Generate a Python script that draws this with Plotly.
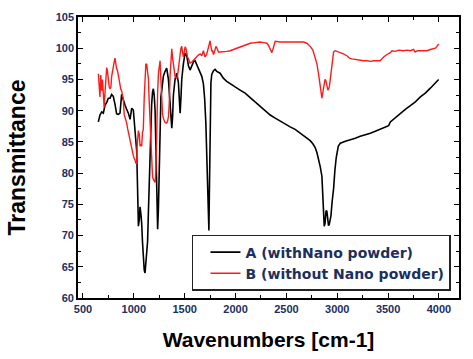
import plotly.graph_objects as go

# Series A (with Nano powder) - black
a_x = [651, 667, 684, 700, 717, 733, 749, 766, 782, 798, 815, 831, 848, 864, 880, 897, 913, 930, 946, 963,
       979, 995, 1004, 1012, 1020, 1028, 1036, 1045, 1053, 1061, 1069, 1077, 1085, 1093, 1102, 1110, 1118,
       1126, 1135, 1143, 1151, 1159, 1167, 1175, 1184, 1192, 1200, 1209, 1217, 1225, 1234, 1242, 1250, 1258,
       1266, 1275, 1290, 1307, 1323, 1340, 1356, 1373, 1381, 1389, 1405, 1422, 1438, 1446, 1455, 1463, 1471,
       1487, 1504, 1520, 1537, 1553, 1570, 1586, 1602, 1619, 1635, 1652, 1668, 1684, 1696, 1708, 1716, 1724,
       1733, 1738, 1742, 1750, 1758, 1766, 1783, 1799, 1815, 1848, 1880, 1913, 1947, 1996, 2045, 2094, 2144,
       2193, 2242, 2291, 2341, 2390, 2439, 2488, 2537, 2586, 2635, 2684, 2734, 2760, 2783, 2800, 2816, 2833,
       2849, 2857, 2865, 2872, 2880, 2890, 2898, 2906, 2914, 2922, 2938, 2950, 2964, 2977, 2990, 3010, 3030,
       3080, 3128, 3177, 3226, 3276, 3325, 3374, 3423, 3472, 3505, 3522, 3571, 3620, 3669, 3719, 3768, 3817,
       3866, 3915, 3948, 3997]
a_y = [88.2, 89.3, 89.8, 89.6, 90.9, 91.3, 92.0, 92.0, 92.6, 92.3, 91.0, 89.5, 89.4, 89.6, 92.6, 91.5, 90.9,
       90.2, 89.6, 88.6, 90.4, 90.1, 88.5, 86.9, 85.0, 83.5, 78.0, 71.5, 72.5, 74.6, 73.5, 72.0, 69.0, 66.5,
       64.5, 64.0, 65.5, 66.8, 69.0, 73.6, 79.0, 84.2, 88.5, 91.0, 93.0, 93.5, 92.5, 90.0, 84.0, 76.0, 71.0,
       74.5, 82.0, 90.0, 92.2, 93.3, 95.5, 96.3, 96.8, 95.0, 91.5, 87.2, 89.0, 92.5, 95.0, 96.0, 94.5, 91.5,
       89.6, 92.0, 95.0, 97.5, 99.2, 98.8, 97.2, 96.5, 97.3, 97.8, 98.0, 97.3, 96.8, 96.2, 95.5, 94.3, 92.0,
       88.0, 83.0, 76.0, 71.0, 70.8, 76.0, 88.0, 94.5, 95.8, 96.4, 96.6, 96.3, 96.0, 95.2, 94.7, 94.3, 93.8,
       93.3, 92.8, 92.1, 91.4, 90.6, 90.0, 89.3, 88.8, 88.3, 87.8, 87.4, 87.0, 86.4, 85.9, 85.2, 84.7, 84.1,
       83.3, 82.3, 81.0, 79.5, 77.0, 74.5, 71.5, 72.0, 74.0, 73.9, 72.5, 71.6, 71.8, 73.2, 75.5, 77.5, 80.5,
       82.5, 84.3, 84.8, 85.1, 85.3, 85.6, 85.9, 86.1, 86.4, 86.7, 87.0, 87.3, 87.6, 88.2, 88.9, 89.6, 90.2,
       90.8, 91.4, 92.2, 92.8, 93.6, 94.2, 95.0]

# Series B (without Nano powder) - red
b_x = [651, 659, 667, 675, 684, 692, 700, 708, 717, 725, 733, 741, 749, 758, 766, 774, 782, 790, 798, 807,
       815, 823, 831, 840, 848, 856, 864, 872, 880, 889, 897, 905, 913, 922, 930, 938, 946, 955, 963, 971,
       979, 987, 995, 1004, 1012, 1020, 1028, 1032, 1038, 1045, 1054, 1061, 1069, 1077, 1085, 1093, 1102,
       1110, 1118, 1126, 1135, 1143, 1151, 1159, 1167, 1175, 1184, 1192, 1200, 1209, 1217, 1225, 1234, 1242,
       1250, 1258, 1266, 1275, 1282, 1290, 1307, 1323, 1331, 1340, 1348, 1356, 1365, 1373, 1381, 1389, 1397,
       1405, 1414, 1422, 1430, 1438, 1446, 1455, 1463, 1471, 1479, 1487, 1496, 1504, 1512, 1520, 1528, 1537,
       1545, 1553, 1570, 1586, 1602, 1619, 1635, 1652, 1668, 1684, 1692, 1700, 1716, 1733, 1742, 1750, 1758,
       1766, 1774, 1783, 1791, 1799, 1807, 1815, 1832, 1848, 1880, 1913, 1947, 1996, 2045, 2094, 2144, 2193,
       2242, 2275, 2308, 2325, 2334, 2347, 2357, 2367, 2380, 2390, 2439, 2488, 2537, 2586, 2635, 2668, 2700,
       2734, 2760, 2783, 2800, 2816, 2828, 2839, 2849, 2857, 2865, 2872, 2880, 2888, 2898, 2908, 2916, 2924,
       2935, 2947, 2958, 2964, 2980, 3000, 3030, 3060, 3095, 3120, 3144, 3177, 3210, 3259, 3292, 3325, 3358,
       3390, 3423, 3440, 3456, 3489, 3522, 3538, 3571, 3604, 3652, 3685, 3719, 3750, 3766, 3790, 3817, 3849,
       3882, 3915, 3948, 3965, 3980, 3997]
b_y = [95.9, 94.5, 92.2, 95.7, 93.2, 95.0, 92.0, 90.5, 93.0, 94.8, 96.9, 96.3, 94.6, 93.8, 93.5, 93.7, 95.5,
       96.5, 97.2, 97.8, 98.4, 96.9, 96.7, 96.4, 95.5, 95.4, 93.8, 93.4, 93.2, 92.4, 91.8, 89.4, 88.9, 88.7,
       88.0, 87.2, 86.5, 85.8, 85.0, 84.3, 83.6, 83.3, 82.8, 82.3, 82.1, 81.6, 81.5, 84.2, 86.5, 86.8, 86.2,
       84.3, 84.6, 84.3, 86.5, 87.0, 92.0, 95.5, 97.5, 97.4, 96.0, 95.2, 91.5, 88.0, 84.5, 81.5, 79.4, 79.0,
       78.6, 78.5, 80.5, 88.0, 93.0, 96.0, 97.8, 98.0, 95.0, 91.5, 89.5, 88.8, 88.1, 88.0, 88.3, 89.0, 91.0,
       95.5, 98.0, 99.9, 98.5, 97.2, 96.3, 95.5, 95.3, 95.2, 95.6, 97.0, 98.0, 99.0, 100.0, 100.3, 99.3, 98.6,
       99.4, 100.2, 100.0, 99.0, 98.6, 98.3, 97.8, 97.6, 97.8, 98.1, 98.4, 98.7, 98.9, 99.1, 98.8, 99.6, 99.2,
       98.6, 99.0, 100.3, 100.6, 101.2, 100.3, 99.6, 99.6, 99.0, 99.3, 99.9, 100.3, 100.1, 99.4, 99.4, 99.4,
       99.5, 99.6, 99.9, 100.2, 100.5, 100.8, 100.9, 101.0, 100.9, 100.8, 100.4, 100.0, 99.5, 99.3, 99.8,
       100.7, 101.1, 101.0, 101.0, 101.0, 100.9, 101.0, 101.0, 100.8, 100.3, 99.7, 98.6, 97.5, 95.9, 94.2,
       93.0, 92.0, 92.8, 93.6, 94.0, 95.0, 94.8, 93.8, 93.3, 93.5, 94.0, 95.5, 97.2, 98.6, 99.4, 99.6, 99.5,
       99.3, 99.1, 98.8, 98.4, 98.3, 98.2, 98.2, 98.0, 98.0, 97.9, 98.0, 98.0, 98.0, 98.3, 98.6, 99.0, 99.3,
       99.6, 99.5, 99.7, 99.6, 99.7, 99.6, 99.8, 99.4, 99.6, 99.6, 99.7, 99.6, 99.8, 99.9, 100.0, 100.3, 100.7]

series_names = ["A (withNano powder)", "B (without Nano powder)"]
x_title = "Wavenumbers [cm-1]"
y_title = "Transmittance"
x_range = [451, 4197]
y_range = [60, 105]

tick_color = "#1c2f5e"
tick_font = dict(family="Liberation Sans, Arial", size=11, color=tick_color, weight="bold")

fig = go.Figure()
fig.add_trace(go.Scatter(x=a_x, y=a_y, mode="lines", name=series_names[0],
                         line=dict(color="black", width=1.6)))
fig.add_trace(go.Scatter(x=b_x, y=b_y, mode="lines", name=series_names[1],
                         line=dict(color="#ff1a1a", width=1.4)))

axis_common = dict(showline=True, linecolor="black", linewidth=1.6, mirror="ticks",
                   ticks="inside", ticklen=5, tickwidth=1.2, tickcolor="black",
                   showgrid=False, zeroline=False, tickfont=tick_font, automargin=False)

fig.update_xaxes(range=x_range, tickmode="linear", tick0=500, dtick=500,
                 minor=dict(dtick=250, ticks="inside", ticklen=3, tickcolor="black", tickwidth=1),
                 title=dict(text=x_title, font=dict(family="Liberation Sans, Arial", size=21,
                                                   color="black", weight="bold"), standoff=18),
                 **axis_common)
fig.update_yaxes(range=y_range, tickmode="linear", tick0=60, dtick=5,
                 minor=dict(dtick=2.5, ticks="inside", ticklen=3, tickcolor="black", tickwidth=1),
                 title=dict(text=y_title, font=dict(family="Liberation Sans, Arial", size=23,
                                                   color="black", weight="bold"), standoff=24),
                 **axis_common)

fig.update_layout(
    width=473, height=359,
    margin=dict(l=78, r=14, t=17, b=61),
    paper_bgcolor="white", plot_bgcolor="white",
    showlegend=True,
    legend=dict(x=0.979, y=0.025, xanchor="right", yanchor="bottom",
                bgcolor="white", bordercolor="#222222", borderwidth=1.5,
                font=dict(family="DejaVu Sans", size=14, color=tick_color, weight="bold"),
                itemwidth=30, indentation=12, tracegroupgap=0),
)

fig.write_html("out.html", config={"displayModeBar": False},
               post_script="document.body.style.margin='0';")
